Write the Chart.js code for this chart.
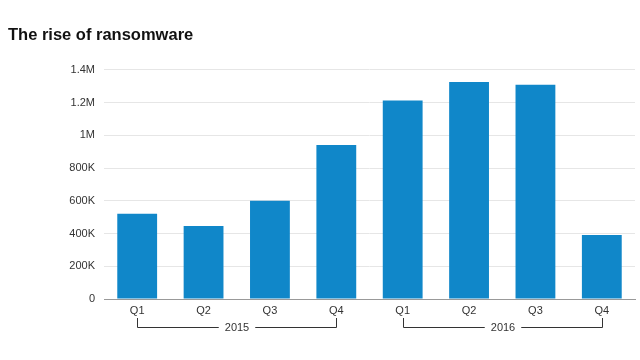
<!DOCTYPE html>
<html>
<head>
<meta charset="utf-8">
<script src="https://cdn.jsdelivr.net/npm/chart.js@4"></script>
<style>
  html, body { margin: 0; padding: 0; background: #fff; }
  #wrap { width: 640px; height: 360px; }
</style>
</head>
<body>
<div id="wrap"><canvas id="chart"></canvas></div>
<script>
var quarters = ['Q1', 'Q2', 'Q3', 'Q4', 'Q1', 'Q2', 'Q3', 'Q4'];
var years = ['2015', '2016'];
var attacks = [520000, 446000, 600000, 940000, 1212000, 1325000, 1308000, 391000];
var yTicks = [0, 200000, 400000, 600000, 800000, 1000000, 1200000, 1400000];

function fmt(v) {
    if (v === 0) return '0';
    if (v >= 1000000) return (v / 1000000) + 'M';
    return (v / 1000) + 'K';
}

// draws the year bracket under each group of four quarters
var yearBrackets = {
    id: 'yearBrackets',
    afterDraw: function(chart) {
        var ctx = chart.ctx;
        var x = chart.scales.x;
        var top = Math.round(chart.chartArea.bottom) + 19;
        var lineY = top + 9.5;
        ctx.save();
        ctx.strokeStyle = '#333';
        ctx.lineWidth = 1;
        ctx.fillStyle = '#333';
        ctx.font = '11px "Liberation Sans", Arial, sans-serif';
        ctx.textAlign = 'center';
        ctx.textBaseline = 'middle';
        years.forEach(function(yr, i) {
            var x1 = Math.round(x.getPixelForValue(i * 4)) + 0.5;
            var x2 = Math.round(x.getPixelForValue(i * 4 + 3)) + 0.5;
            var mid = (x1 + x2) / 2;
            var half = ctx.measureText(yr).width / 2 + 6;
            ctx.beginPath();
            ctx.moveTo(x1, top);
            ctx.lineTo(x1, lineY);
            ctx.lineTo(mid - half, lineY);
            ctx.moveTo(mid + half, lineY);
            ctx.lineTo(x2, lineY);
            ctx.lineTo(x2, top);
            ctx.stroke();
            ctx.fillText(yr, mid, lineY);
        });
        ctx.restore();
    }
};

new Chart(document.getElementById('chart'), {
    type: 'bar',
    data: {
        labels: quarters,
        datasets: [{
            data: attacks,
            backgroundColor: '#1087c9',
            barPercentage: 0.6,
            categoryPercentage: 1.0
        }]
    },
    options: {
        responsive: true,
        maintainAspectRatio: false,
        animation: false,
        layout: { padding: { left: 8, right: 5, top: 0, bottom: 0 } },
        plugins: {
            legend: { display: false },
            tooltip: { enabled: false },
            title: {
                display: true,
                text: 'The rise of ransomware',
                align: 'start',
                color: '#111',
                font: { family: '"Liberation Sans", Arial, sans-serif', size: 16.5, weight: 'bold' },
                padding: { top: 26, bottom: 24 }
            }
        },
        scales: {
            x: {
                grid: { display: false, tickLength: 0 },
                border: { display: true, color: '#999', width: 1 },
                ticks: {
                    color: '#333',
                    padding: 5,
                    font: { family: '"Liberation Sans", Arial, sans-serif', size: 11 }
                },
                afterFit: function(s) { s.height = 61; }
            },
            y: {
                min: 0,
                max: 1400000,
                afterBuildTicks: function(s) { s.ticks = yTicks.map(function(v) { return { value: v }; }); },
                grid: { color: '#e6e6e6', drawTicks: false },
                border: { display: false },
                ticks: {
                    color: '#333',
                    padding: 9,
                    font: { family: '"Liberation Sans", Arial, sans-serif', size: 11 },
                    callback: function(v) { return fmt(v); }
                },
                afterFit: function(s) { s.width = 96; }
            }
        }
    },
    plugins: [yearBrackets]
});
</script>
</body>
</html>
